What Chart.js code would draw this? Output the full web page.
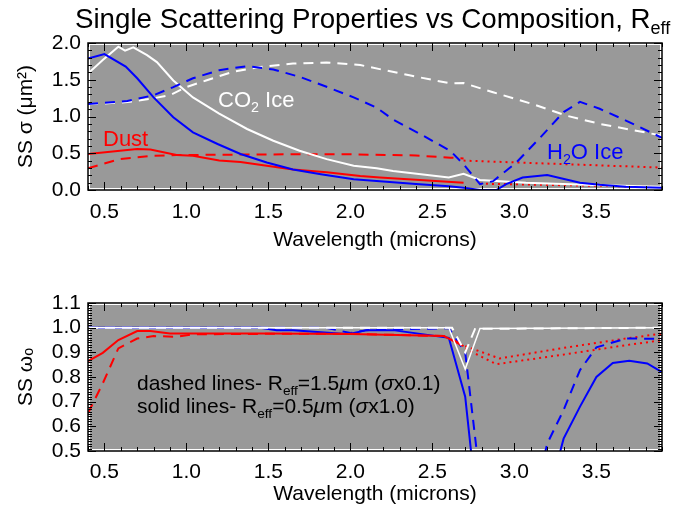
<!DOCTYPE html>
<html>
<head>
<meta charset="utf-8">
<script src="https://cdn.jsdelivr.net/npm/chart.js@4.4.1/dist/chart.umd.min.js"></script>
<style>
  body { margin: 0; background: #fff; font-family: "Liberation Sans", Arial, sans-serif; }
  #wrap { position: relative; width: 688px; height: 509px; overflow: hidden; }
  .box { position: absolute; left: 0; }
  .lbl { position: absolute; white-space: nowrap; line-height: 1; }
  .lbl sub { font-size: 65%; vertical-align: -0.35em; line-height: 0; }
</style>
</head>
<body>
<div id="wrap">
  <div class="box" style="top:0;width:688px;height:260px"><canvas id="sigma" width="688" height="260"></canvas></div>
  <div class="box" style="top:260px;width:688px;height:249px"><canvas id="omega" width="688" height="249"></canvas></div>

  <div class="lbl" style="left:75px;top:5px;font-size:27.7px;color:#000">Single Scattering Properties vs Composition, R<sub>eff</sub></div>
  <div class="lbl" style="left:218px;top:89px;font-size:22px;color:#fff">CO<sub>2</sub> Ice</div>
  <div class="lbl" style="left:103px;top:128px;font-size:22px;color:#f00">Dust</div>
  <div class="lbl" style="left:547px;top:141px;font-size:22px;color:#00f">H<sub>2</sub>O Ice</div>
  <div class="lbl" style="left:137px;top:372px;font-size:21px;color:#000">dashed lines- R<sub>eff</sub>=1.5<i>μ</i>m (<i>σ</i>x0.1)</div>
  <div class="lbl" style="left:137px;top:395px;font-size:21px;color:#000">solid lines- R<sub>eff</sub>=0.5<i>μ</i>m (<i>σ</i>x1.0)</div>
</div>

<script>
const FONT = '"Liberation Sans", Arial, sans-serif';

// tick labels
const xTicks = [0.5, 1.0, 1.5, 2.0, 2.5, 3.0, 3.5];
const sigmaTicks = [0.0, 0.5, 1.0, 1.5, 2.0];
const omegaTicks = [0.5, 0.6, 0.7, 0.8, 0.9, 1.0, 1.1];

// ---- top panel: single scattering cross section sigma ----
// H2O ice, Reff 0.5 (solid)
const sigH2OSolidX = [0.40, 0.50, 0.63, 0.70, 0.80, 0.92, 1.04, 1.19, 1.33, 1.49, 1.65, 1.82, 2.02, 2.20, 2.40, 2.60, 2.69, 2.79, 2.89, 2.95, 3.05, 3.20, 3.40, 3.52, 3.68, 3.90];
const sigH2OSolidY = [1.79, 1.85, 1.68, 1.52, 1.26, 0.99, 0.785, 0.626, 0.49, 0.374, 0.28, 0.215, 0.146, 0.115, 0.08, 0.05, 0.03, 0.0, 0.0, 0.08, 0.17, 0.205, 0.10, 0.07, 0.045, 0.03];
// H2O ice, Reff 1.5 (dashed)
const sigH2ODashX = [0.40, 0.64, 0.80, 0.92, 1.04, 1.20, 1.37, 1.53, 1.69, 1.86, 2.02, 2.16, 2.26, 2.46, 2.61, 2.69, 2.79, 2.87, 3.01, 3.16, 3.30, 3.40, 3.52, 3.68, 3.90];
const sigH2ODashY = [1.17, 1.21, 1.29, 1.40, 1.52, 1.63, 1.685, 1.64, 1.54, 1.40, 1.26, 1.12, 0.96, 0.72, 0.53, 0.35, 0.08, 0.12, 0.37, 0.72, 1.06, 1.20, 1.105, 0.945, 0.71];
// CO2 ice, Reff 0.5 (solid)
const sigCO2SolidX = [0.40, 0.49, 0.585, 0.626, 0.676, 0.76, 0.82, 0.92, 1.04, 1.20, 1.37, 1.53, 1.69, 1.855, 2.02, 2.16, 2.26, 2.60, 2.69, 2.79, 3.07, 3.48, 3.90];
const sigCO2SolidY = [1.585, 1.77, 1.95, 1.895, 1.94, 1.835, 1.74, 1.49, 1.26, 1.04, 0.83, 0.67, 0.534, 0.42, 0.33, 0.297, 0.26, 0.17, 0.22, 0.137, 0.10, 0.068, 0.045];
// CO2 ice, Reff 1.5 (dashed)
const sigCO2DashX = [0.40, 0.64, 0.78, 0.90, 1.00, 1.12, 1.285, 1.45, 1.65, 1.855, 2.06, 2.36, 2.61, 2.69, 2.87, 3.11, 3.32, 3.52, 3.90];
const sigCO2DashY = [1.165, 1.196, 1.24, 1.29, 1.40, 1.49, 1.61, 1.675, 1.72, 1.735, 1.70, 1.56, 1.45, 1.456, 1.33, 1.17, 1.01, 0.90, 0.74];
// dust, Reff 0.5 (solid)
const sigDustSolidX = [0.40, 0.70, 0.78, 0.94, 1.04, 1.20, 1.33, 1.49, 1.65, 1.855, 2.06, 2.18, 2.69];
const sigDustSolidY = [0.49, 0.557, 0.55, 0.475, 0.465, 0.40, 0.38, 0.33, 0.28, 0.24, 0.19, 0.17, 0.10];
// dust, Reff 1.5 (dashed)
const sigDustDashX = [0.40, 0.595, 0.80, 0.94, 1.20, 1.60, 2.00, 2.40, 2.61, 2.69];
const sigDustDashY = [0.297, 0.42, 0.466, 0.475, 0.48, 0.485, 0.485, 0.47, 0.44, 0.43];
// dust beyond 2.7 microns (dotted)
const sigDustDot1X = [2.69, 3.07, 3.90];
const sigDustDot1Y = [0.40, 0.37, 0.305];
const sigDustDot2X = [2.79, 3.07, 3.90];
const sigDustDot2Y = [0.086, 0.075, 0.04];

// ---- bottom panel: single scattering albedo omega ----
const omCO2SolidX = [0.40, 2.60, 2.70, 2.79, 3.90];
const omCO2SolidY = [1.0, 1.0, 0.832, 0.997, 1.0];
const omCO2DashX = [0.40, 2.62, 2.70, 2.76, 3.90];
const omCO2DashY = [1.0, 1.0, 0.90, 0.995, 1.0];
const omH2OSolidX = [0.40, 1.45, 1.55, 1.65, 1.95, 2.00, 2.10, 2.26, 2.60, 2.70, 2.80, 3.00, 3.20, 3.30, 3.40, 3.50, 3.60, 3.70, 3.81, 3.90];
const omH2OSolidY = [1.0, 1.0, 0.99, 0.99, 0.975, 0.975, 0.99, 0.99, 0.959, 0.72, 0.10, 0.10, 0.30, 0.55, 0.68, 0.80, 0.857, 0.866, 0.855, 0.82];
const omH2ODashX = [0.40, 1.85, 2.00, 2.10, 2.60, 2.70, 2.80, 3.00, 3.10, 3.20, 3.30, 3.40, 3.50, 3.68, 3.90];
const omH2ODashY = [1.0, 1.0, 0.978, 0.99, 0.998, 0.90, 0.33, 0.10, 0.25, 0.53, 0.666, 0.828, 0.92, 0.956, 0.955];
const omDustSolidX = [0.40, 0.49, 0.585, 0.70, 0.78, 0.90, 1.50, 2.00, 2.57, 2.69];
const omDustSolidY = [0.864, 0.898, 0.95, 0.986, 0.986, 0.976, 0.976, 0.974, 0.966, 0.925];
const omDustDashX = [0.40, 0.49, 0.585, 0.70, 0.80, 0.94, 1.04, 1.50, 2.00, 2.57, 2.69];
const omDustDashY = [0.653, 0.774, 0.916, 0.956, 0.966, 0.963, 0.973, 0.975, 0.975, 0.966, 0.93];
const omDustDot1X = [2.70, 2.91, 3.28, 3.68, 3.90];
const omDustDot1Y = [0.925, 0.875, 0.916, 0.956, 0.976];
const omDustDot2X = [2.70, 2.89, 3.28, 3.68, 3.90];
const omDustDot2Y = [0.915, 0.852, 0.889, 0.929, 0.949];

const DASH = [10, 7];
const DOT = [2, 4];

function line(xs, ys, color, dash, width) {
  return {
    data: xs.map((x, i) => ({ x: x, y: ys[i] })),
    borderColor: color,
    borderDash: dash || [],
    borderWidth: width || 2,
    pointRadius: 0,
    fill: false,
    tension: 0
  };
}

// gray plot background, black frame and IDL-style inward ticks
const frame = {
  id: 'frame',
  beforeDatasetsDraw(chart) {
    const { ctx, chartArea: a } = chart;
    ctx.save();
    ctx.fillStyle = '#999999';
    ctx.fillRect(a.left + 2, a.top + 2, a.width - 4, a.height - 4);
    ctx.restore();
  },
  afterDraw(chart, args, opts) {
    const { ctx, chartArea: a, scales: { x, y } } = chart;
    ctx.save();
    ctx.strokeStyle = '#000';
    ctx.lineWidth = 1.5;
    ctx.strokeRect(a.left, a.top, a.width, a.height);
    ctx.lineWidth = 1;
    ctx.beginPath();
    // x ticks, bottom and top
    for (let i = Math.ceil(x.min / opts.xMinor - 1e-6); i * opts.xMinor <= x.max + 1e-6; i++) {
      const v = i * opts.xMinor;
      const major = Math.abs(v / opts.xMajor - Math.round(v / opts.xMajor)) < 1e-6;
      const len = major ? 8 : 4;
      const px = Math.round(x.getPixelForValue(v)) + 0.5;
      ctx.moveTo(px, a.bottom); ctx.lineTo(px, a.bottom - len);
      ctx.moveTo(px, a.top); ctx.lineTo(px, a.top + len);
    }
    // y ticks, left and right
    for (let i = Math.ceil(y.min / opts.yMinor - 1e-6); i * opts.yMinor <= y.max + 1e-6; i++) {
      const v = i * opts.yMinor;
      const major = Math.abs(v / opts.yMajor - Math.round(v / opts.yMajor)) < 1e-6;
      const len = major ? 8 : 4;
      const py = Math.round(y.getPixelForValue(v)) + 0.5;
      ctx.moveTo(a.left, py); ctx.lineTo(a.left + len, py);
      ctx.moveTo(a.right, py); ctx.lineTo(a.right - len, py);
    }
    ctx.stroke();
    ctx.restore();
  }
};

function scales(o) {
  return {
    x: {
      type: 'linear', min: 0.4, max: 3.9,
      afterBuildTicks: ax => { ax.ticks = xTicks.map(v => ({ value: v })); },
      afterFit: ax => { ax.height = o.xHeight; },
      grid: { display: false, drawTicks: false },
      border: { display: false },
      ticks: { color: '#000', font: { family: FONT, size: 21 }, padding: o.xPad, maxRotation: 0, autoSkip: false,
               callback: v => v.toFixed(1) },
      title: { display: true, text: 'Wavelength (microns)', color: '#000', font: { family: FONT, size: 21 },
               padding: { top: 0, bottom: o.xTitlePad } }
    },
    y: {
      type: 'linear', min: o.yMin, max: o.yMax,
      afterBuildTicks: ax => { ax.ticks = o.yTicks.map(v => ({ value: v })); },
      afterFit: ax => { ax.width = 88; },
      grid: { display: false, drawTicks: false },
      border: { display: false },
      ticks: { color: '#000', font: { family: FONT, size: 21 }, padding: 7, autoSkip: false,
               callback: v => v.toFixed(1) },
      title: { display: true, text: o.yTitle, color: '#000', font: { family: FONT, size: 21 },
               padding: { top: 14, bottom: 0 } }
    }
  };
}

// Chart.js paints the first dataset on top, so the lists run top-most first
new Chart(document.getElementById('sigma'), {
  type: 'line',
  data: {
    datasets: [
      line(sigH2OSolidX, sigH2OSolidY, '#0000ff'),
      line(sigH2ODashX, sigH2ODashY, '#0000ff', DASH),
      line(sigCO2SolidX, sigCO2SolidY, '#ffffff'),
      line(sigCO2DashX, sigCO2DashY, '#ffffff', DASH),
      line(sigDustSolidX, sigDustSolidY, '#ff0000'),
      line(sigDustDashX, sigDustDashY, '#ff0000', DASH),
      line(sigDustDot1X, sigDustDot1Y, '#ff0000', DOT),
      line(sigDustDot2X, sigDustDot2Y, '#ff0000', DOT)
    ]
  },
  options: {
    responsive: false, animation: false,
    layout: { padding: { left: 0, top: 43, right: 26, bottom: 0 } },
    plugins: {
      legend: { display: false }, tooltip: { enabled: false },
      frame: { xMinor: 0.1, xMajor: 0.5, yMinor: 0.1, yMajor: 0.5 }
    },
    scales: scales({ xHeight: 70, xPad: 10, xTitlePad: 7, yMin: 0, yMax: 2.0, yTicks: sigmaTicks, yTitle: 'SS σ (μm²)' })
  },
  plugins: [frame]
});

new Chart(document.getElementById('omega'), {
  type: 'line',
  data: {
    datasets: [
      line(omCO2SolidX, omCO2SolidY, '#ffffff', [], 1.5),
      line(omCO2DashX, omCO2DashY, '#ffffff', DASH),
      line(omDustSolidX, omDustSolidY, '#ff0000'),
      line(omDustDashX, omDustDashY, '#ff0000', DASH),
      line(omH2OSolidX, omH2OSolidY, '#0000ff'),
      line(omH2ODashX, omH2ODashY, '#0000ff', DASH),
      line(omDustDot1X, omDustDot1Y, '#ff0000', DOT),
      line(omDustDot2X, omDustDot2Y, '#ff0000', DOT)
    ]
  },
  options: {
    responsive: false, animation: false,
    layout: { padding: { left: 0, top: 43, right: 26, bottom: 0 } },
    plugins: {
      legend: { display: false }, tooltip: { enabled: false },
      frame: { xMinor: 0.1, xMajor: 0.5, yMinor: 0.01, yMajor: 0.1 }
    },
    scales: scales({ xHeight: 58, xPad: 9, xTitlePad: 2, yMin: 0.5, yMax: 1.1, yTicks: omegaTicks, yTitle: 'SS ωₒ' })
  },
  plugins: [frame]
});
</script>
</body>
</html>
